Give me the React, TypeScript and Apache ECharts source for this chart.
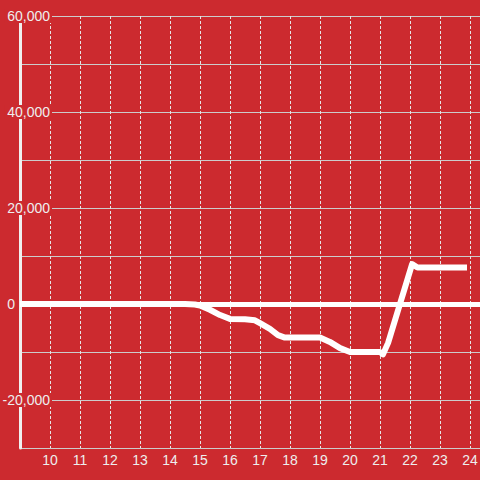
import React, { useEffect, useRef } from "react";
import * as echarts from "echarts";

const hours = [9, 14.5, 14.83, 15.0, 15.33, 15.67, 16.0, 16.5, 16.83, 17.0, 17.33, 17.6, 17.83, 19.0, 19.33, 19.67, 20.0, 21.0, 21.1, 21.27, 22.07, 22.25, 23.9];
const values = [0, 0, -100, -300, -1200, -2300, -3100, -3200, -3400, -4000, -5200, -6500, -7000, -7000, -7900, -9200, -10000, -10000, -10500, -8100, 8300, 7600, 7600];
const yLabelValues = [60000, 40000, 20000, 0, -20000];

const BG = "#cc2a2f";
const TXT = "#eeeeee";
const FONT = "Liberation Sans, Arial, sans-serif";

export default function App() {
  const ref = useRef<HTMLDivElement>(null);
  useEffect(() => {
    document.body.style.margin = "0";
    const chart = echarts.init(ref.current!, null, { renderer: "svg" });
    const fmt = (v: number) => {
      if (!yLabelValues.includes(v)) return "";
      if (v === 0) return "{z|0}";
      return "{b|" + v.toLocaleString("en-US") + "}";
    };
    chart.setOption({
      animation: false,
      backgroundColor: BG,
      grid: { left: 20, right: 0, top: 16, bottom: 32, containLabel: false, outerBoundsMode: "none" },
      xAxis: {
        type: "value",
        min: 9,
        max: 24.3333,
        interval: 1,
        axisLine: { show: false },
        axisTick: { show: false },
        splitLine: { show: true, lineStyle: { color: "#e6e6e6", width: 1, type: [3, 2] } },
        axisLabel: {
          color: TXT,
          fontSize: 14,
          fontFamily: FONT,
          margin: 5,
          showMinLabel: false,
          showMaxLabel: false,
          formatter: (v: number) => (Number.isInteger(v) && v > 9 ? String(v) : ""),
        },
      },
      yAxis: [
        {
          type: "value",
          min: -30000,
          max: 60000,
          interval: 10000,
          position: "left",
          axisLine: { show: true, lineStyle: { color: "#f0f0f0", width: 3 } },
          axisTick: { show: false },
          axisLabel: { show: false },
          splitLine: { show: true, lineStyle: { color: "#cccccc", width: 1 } },
        },
        {
          type: "value",
          min: -30000,
          max: 60000,
          interval: 10000,
          position: "left",
          z: 5,
          axisLine: { show: false },
          axisTick: { show: false },
          splitLine: { show: false },
          axisLabel: {
            inside: true,
            margin: 32,
            align: "right",
            fontSize: 14,
            fontFamily: FONT,
            color: TXT,
            formatter: fmt,
            rich: {
              b: {
                color: TXT,
                fontSize: 14,
                lineHeight: 15,
                fontFamily: FONT,
                backgroundColor: BG,
                padding: [0, 2, 0, 3],
              },
              z: {
                color: TXT,
                fontSize: 14,
                lineHeight: 15,
                fontFamily: FONT,
                padding: [0, 37, 0, 0],
              },
            },
          },
        },
      ],
      series: [
        {
          type: "line",
          yAxisIndex: 0,
          data: hours.map((h, i) => [h, values[i]]),
          showSymbol: false,
          symbol: "none",
          lineStyle: { color: "#ffffff", width: 6, join: "round", cap: "butt" },
          markLine: {
            silent: true,
            symbol: "none",
            label: { show: false },
            lineStyle: { color: "#ffffff", width: 5, type: "solid" },
            data: [{ yAxis: 0 }],
          },
        },
      ],
    });
    return () => chart.dispose();
  }, []);
  return <div ref={ref} style={{ width: 480, height: 480 }} />;
}
